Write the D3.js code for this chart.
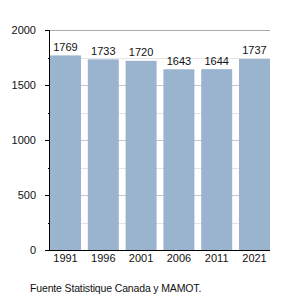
<!DOCTYPE html>
<html>
<head>
<meta charset="utf-8">
<script src="https://cdn.jsdelivr.net/npm/d3@7"></script>
<style>
  body { margin: 0; background: #fff; }
  text { font-family: "Liberation Sans", Arial, sans-serif; }
</style>
</head>
<body>
<div id="chart"></div>
<script>
// datos del gráfico
const years = ['1991', '1996', '2001', '2006', '2011', '2021'];
const population = [1769, 1733, 1720, 1643, 1644, 1737];
const yMajorTicks = [0, 500, 1000, 1500, 2000];
const yMinorTicks = [250, 750, 1250, 1750];
const sourceText = 'Fuente Statistique Canada y MAMOT.';

const width = 300, height = 300;
const margin = { top: 30, right: 30, bottom: 50, left: 50 };

const svg = d3.select('#chart').append('svg')
  .attr('width', width)
  .attr('height', height);

const x = d3.scaleBand()
  .domain(years)
  .range([margin.left, width - margin.right])
  .paddingInner(0.18)
  .paddingOuter(0);

const y = d3.scaleLinear()
  .domain([0, 2000])
  .range([height - margin.bottom, margin.top]);

// líneas de cuadrícula (detrás de las barras)
svg.append('g')
  .selectAll('line')
  .data(yMajorTicks.concat(yMinorTicks).filter(d => d > 0))
  .enter().append('line')
  .attr('x1', margin.left)
  .attr('x2', width - margin.right)
  .attr('y1', d => Math.round(y(d)) + 0.5)
  .attr('y2', d => Math.round(y(d)) + 0.5)
  .attr('stroke', d => d === 2000 ? '#aaa' : (d % 500 === 0 ? '#c8c8c8' : '#e4e4e4'))
  .attr('stroke-width', 1);

// barras
svg.append('g')
  .selectAll('rect')
  .data(population)
  .enter().append('rect')
  .attr('x', (d, i) => x(years[i]))
  .attr('y', d => y(d))
  .attr('width', x.bandwidth())
  .attr('height', d => y(0) - y(d))
  .attr('fill', '#9ab4cf');

// etiquetas de valor
svg.append('g')
  .selectAll('text')
  .data(population)
  .enter().append('text')
  .attr('x', (d, i) => x(years[i]) + x.bandwidth() / 2)
  .attr('y', d => y(d) - 4.5)
  .attr('text-anchor', 'middle')
  .style('font-size', '11px')
  .style('fill', '#111')
  .text(d => d);

// eje y
const yAxis = svg.append('g')
  .attr('transform', `translate(${margin.left},0)`)
  .call(d3.axisLeft(y).tickValues(yMajorTicks).tickSize(5).tickPadding(9).tickFormat(d3.format('d')));
yAxis.select('.domain').remove();
yAxis.selectAll('text').style('font-size', '11px').style('fill', '#111');

svg.append('g')
  .selectAll('line')
  .data(yMinorTicks)
  .enter().append('line')
  .attr('x1', margin.left - 2)
  .attr('x2', margin.left)
  .attr('y1', d => Math.round(y(d)) + 0.5)
  .attr('y2', d => Math.round(y(d)) + 0.5)
  .attr('stroke', '#000');

svg.append('line')
  .attr('x1', margin.left - 0.5).attr('x2', margin.left - 0.5)
  .attr('y1', margin.top).attr('y2', height - margin.bottom)
  .attr('stroke', '#000');

// eje x
const xAxis = svg.append('g')
  .attr('transform', `translate(0,${height - margin.bottom})`)
  .call(d3.axisBottom(x).tickSize(0).tickPadding(4));
xAxis.select('.domain').remove();
xAxis.selectAll('text').style('font-size', '11px').style('fill', '#111');

svg.append('line')
  .attr('x1', margin.left - 1).attr('x2', width - margin.right)
  .attr('y1', height - margin.bottom + 0.5).attr('y2', height - margin.bottom + 0.5)
  .attr('stroke', '#000');

// fuente
svg.append('text')
  .attr('x', 30)
  .attr('y', 292)
  .style('font-size', '10.5px')
  .style('letter-spacing', '-0.15px')
  .style('fill', '#111')
  .text(sourceText);
</script>
</body>
</html>
